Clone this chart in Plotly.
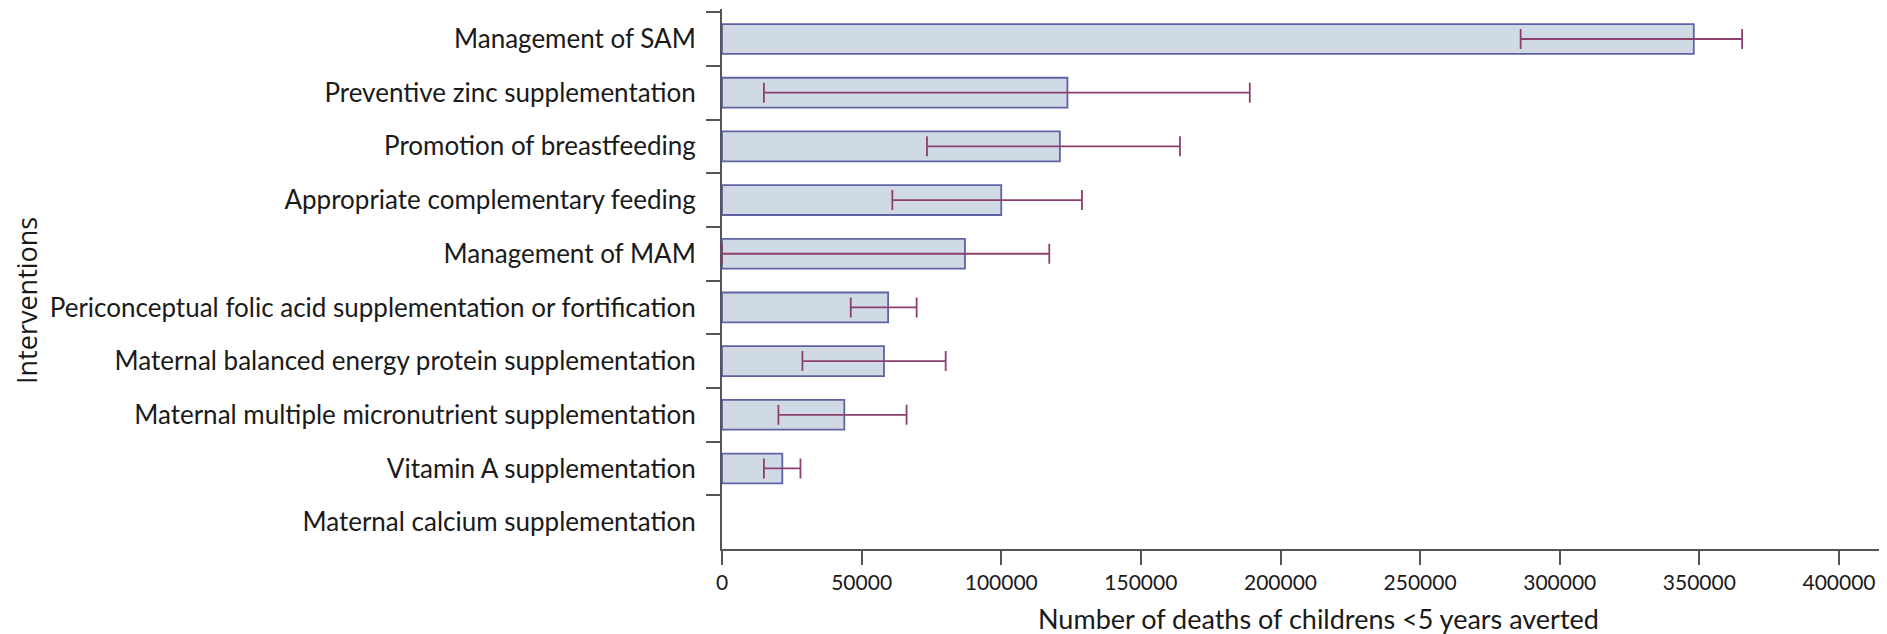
import plotly.graph_objects as go

interventions = [
    "Management of SAM",
    "Preventive zinc supplementation",
    "Promotion of breastfeeding",
    "Appropriate complementary feeding",
    "Management of MAM",
    "Periconceptual folic acid supplementation or fortification",
    "Maternal balanced energy protein supplementation",
    "Maternal multiple micronutrient supplementation",
    "Vitamin A supplementation",
    "Maternal calcium supplementation",
]
deaths_averted = [348000, 123700, 121000, 100000, 87000, 59500, 58000, 43800, 21600, 0]
lower_bound = [286000, 15000, 73400, 61000, 0, 46100, 28800, 20200, 15000, 0]
upper_bound = [365300, 189000, 164000, 128900, 117200, 69700, 80100, 66100, 28100, 0]

x_ticks = [0, 50000, 100000, 150000, 200000, 250000, 300000, 350000, 400000]

has_value = [v > 0 for v in deaths_averted]
eb_y = [c for c, h in zip(interventions, has_value) if h]
eb_x = [v for v, h in zip(deaths_averted, has_value) if h]
eb_plus = [u - v for u, v, h in zip(upper_bound, deaths_averted, has_value) if h]
eb_minus = [v - l for v, l, h in zip(deaths_averted, lower_bound, has_value) if h]

fig = go.Figure()
fig.add_trace(go.Bar(
    y=interventions,
    x=deaths_averted,
    orientation="h",
    marker=dict(color="#D0DAE4",
                line=dict(color="#5F63A3", width=[1.8 if h else 0 for h in has_value])),
    showlegend=False,
))
fig.add_trace(go.Scatter(
    y=eb_y, x=eb_x, mode="markers",
    marker=dict(size=1, color="rgba(0,0,0,0)"),
    error_x=dict(type="data", symmetric=False, array=eb_plus, arrayminus=eb_minus,
                 color="#8C4070", thickness=1.8, width=10),
    showlegend=False, hoverinfo="skip",
))

fig.update_layout(
    width=1879, height=626,
    margin=dict(l=714, r=0, t=1, b=85, pad=0),
    paper_bgcolor="white", plot_bgcolor="white",
    bargap=0.444,
    xaxis=dict(
        range=[0, 417190], tickvals=x_ticks, tickformat="d",
        showgrid=False, zeroline=False,
        showline=True, linecolor="#555555", linewidth=2,
        ticks="outside", ticklen=14, tickwidth=1.5, tickcolor="#555555",
        tickfont=dict(family="Lato, sans-serif", size=21, color="#1a1a1a"),
    ),
    yaxis=dict(
        categoryorder="array", categoryarray=interventions, autorange="reversed",
        showgrid=False, zeroline=False,
        showline=True, linecolor="#555555", linewidth=2,
        ticks="outside", ticklen=14, tickwidth=1.5, tickcolor="#555555",
        tickson="boundaries", ticklabelstandoff=19,
        tickfont=dict(family="Lato, sans-serif", size=26, color="#1a1a1a"),
    ),
    annotations=[
        dict(text="Number of deaths of childrens <5 years averted",
             xref="paper", yref="paper", x=0.5, y=0, xanchor="center", yanchor="middle",
             xshift=14, yshift=-69, showarrow=False,
             font=dict(family="Lato, sans-serif", size=27, color="#1a1a1a")),
        dict(text="Interventions", textangle=-90,
             xref="paper", yref="paper", x=0, y=0.5, xanchor="center", yanchor="middle",
             xshift=-696, yshift=-22, showarrow=False,
             font=dict(family="Open Sans, sans-serif", size=27, color="#1a1a1a")),
    ],
)

fig.write_html("out.html")
